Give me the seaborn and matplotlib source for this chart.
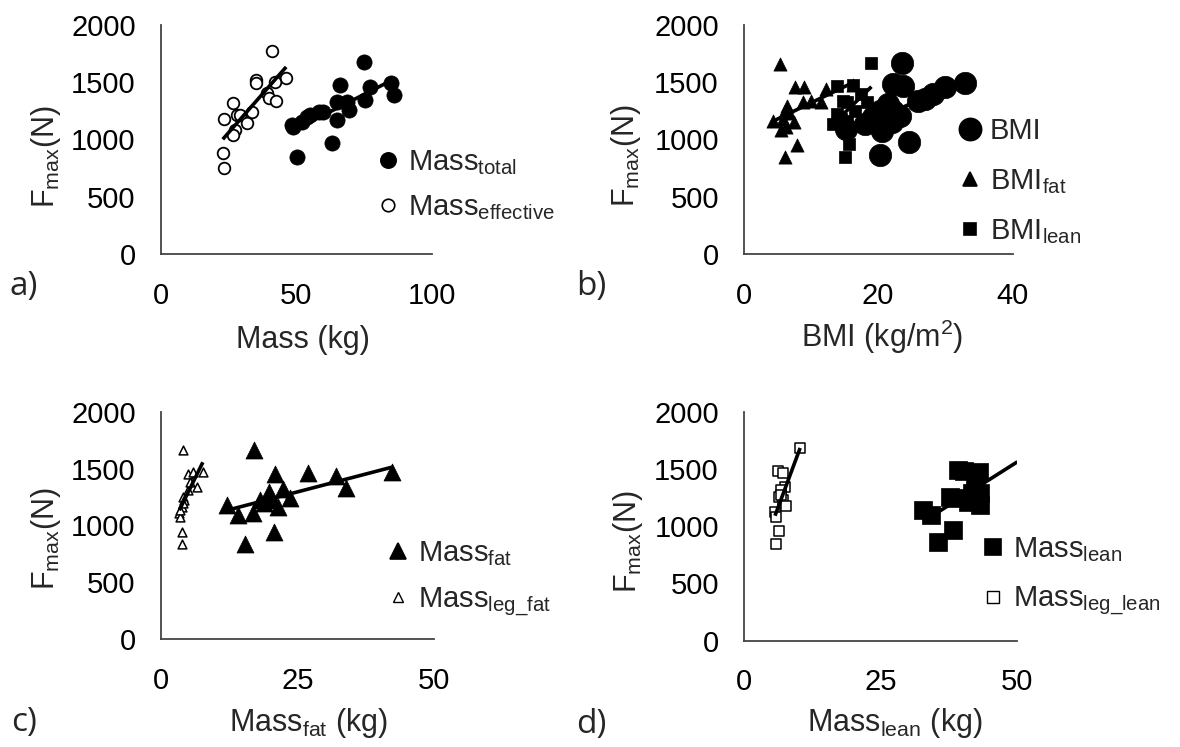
import numpy as np
import matplotlib
matplotlib.use("Agg")
import matplotlib.pyplot as plt
import seaborn as sns
from matplotlib.lines import Line2D

# ---------------- data ----------------
# panel a
mass_total_x = [48.4, 49.0, 50.3, 52.1, 54.0, 55.2, 58.3, 60.0, 63.2, 65.1, 65.1, 66.3, 68.8, 69.4, 74.9, 75.5, 77.4, 84.8, 86.0]
mass_total_y = [1127, 1112, 850, 1155, 1199, 1214, 1243, 1243, 967, 1170, 1330, 1476, 1330, 1258, 1680, 1345, 1461, 1496, 1389]
mass_eff_x = [41.0, 35.2, 35.2, 46.3, 42.3, 39.2, 39.8, 42.6, 26.8, 23.4, 28.3, 29.3, 33.6, 31.8, 27.5, 26.8, 22.9, 23.4]
mass_eff_y = [1776, 1520, 1491, 1534, 1505, 1403, 1360, 1339, 1316, 1176, 1214, 1214, 1243, 1141, 1083, 1039, 879, 748]
# panel b
bmi_x = [23.6, 22.2, 23.7, 32.9, 29.9, 28.2, 27.0, 26.0, 21.5, 20.3, 22.2, 23.2, 19.3, 18.0, 20.3, 22.0, 20.5, 24.6, 20.3, 15.2]
bmi_y = [1664, 1484, 1470, 1490, 1455, 1397, 1354, 1339, 1310, 1252, 1252, 1209, 1194, 1136, 1136, 1150, 1078, 977, 861, 1093]
bmi_fat_x = [5.4, 7.6, 9.0, 12.2, 16.2, 11.5, 8.8, 6.4, 6.2, 4.4, 5.9, 7.4, 5.6, 6.3, 7.9, 6.1, 10.0, 6.8]
bmi_fat_y = [1660, 1455, 1455, 1440, 1480, 1325, 1325, 1290, 1250, 1165, 1180, 1150, 1080, 1110, 950, 845, 1340, 1230]
bmi_lean_x = [19.0, 13.8, 16.3, 14.8, 15.3, 18.3, 13.8, 15.3, 13.3, 14.4, 15.6, 15.1, 16.5, 17.5]
bmi_lean_y = [1665, 1470, 1475, 1340, 1325, 1325, 1225, 1165, 1135, 1180, 963, 846, 1250, 1400]
# panel c
fat_x = [17.1, 20.9, 26.9, 32.0, 42.2, 33.9, 22.3, 19.7, 23.6, 18.2, 21.5, 12.1, 14.2, 16.8, 20.7, 15.4, 18.9, 20.3]
fat_y = [1663, 1453, 1464, 1435, 1473, 1332, 1318, 1297, 1239, 1224, 1165, 1180, 1092, 1113, 946, 837, 1195, 1224]
leg_fat_x = [4.0, 4.9, 5.85, 7.7, 6.6, 4.1, 3.84, 3.4, 3.5, 3.84, 3.84, 4.2, 4.1, 4.9, 5.3, 3.6]
leg_fat_y = [1663, 1453, 1473, 1473, 1336, 1253, 1165, 1107, 1078, 946, 837, 1224, 1195, 1310, 1380, 1140]
# panel d
lean_x = [39.2, 42.9, 38.6, 42.3, 43.2, 41.7, 32.8, 34.3, 41.0, 43.2, 38.3, 35.4, 37.7, 40.2]
lean_y = [1491, 1476, 1244, 1360, 1287, 1287, 1141, 1098, 1214, 1185, 967, 865, 1258, 1480]
leg_lean_x = [10.3, 6.3, 7.1, 7.5, 6.8, 6.4, 7.1, 7.8, 5.7, 5.9, 6.4, 5.9, 6.8]
leg_lean_y = [1680, 1485, 1461, 1345, 1316, 1258, 1229, 1176, 1127, 1083, 961, 844, 1272]

y_ticks = [0, 500, 1000, 1500, 2000]

# ---------------- style ----------------
sns.set_theme(style="white")
plt.rcParams['font.family'] = ['Liberation Sans', 'DejaVu Sans']
plt.rcParams['mathtext.fontset'] = 'custom'
plt.rcParams['mathtext.rm'] = 'Liberation Sans'
plt.rcParams['mathtext.it'] = 'Liberation Sans:italic'
plt.rcParams['mathtext.bf'] = 'Liberation Sans:bold'

FS_TICK = 21
FS_LAB = 22
FS_LEG = 21
W, H = 1180, 747
fig = plt.figure(figsize=(11.8, 7.47), dpi=100)
fig.patch.set_facecolor('white')


def add_axes(l, r, t, b):
    return fig.add_axes([l / W, 1 - b / H, (r - l) / W, (b - t) / H])


axa = add_axes(160.7, 431.7, 25, 254)
axb = add_axes(743.8, 1012.5, 25, 254)
axc = add_axes(160.7, 434.4, 411.7, 639.3)
axd = add_axes(743.8, 1017.4, 411.7, 640.7)


def style(ax, xmax, xticks):
    ax.set_xlim(0, xmax)
    ax.set_ylim(0, 2000)
    ax.set_xticks(xticks)
    ax.set_yticks(y_ticks)
    for s in ['top', 'right']:
        ax.spines[s].set_visible(False)
    for s in ['left', 'bottom']:
        ax.spines[s].set_color('#444444')
        ax.spines[s].set_linewidth(1.3)
    ax.tick_params(length=0, labelsize=FS_TICK, colors='black')
    ax.tick_params(axis='y', pad=18)
    ax.tick_params(axis='x', pad=20)
    ax.set_xlabel('')
    ax.set_ylabel('')
    ax.set_facecolor('none')


def pts(ax, x, y, marker, s, filled, lw=1.3):
    if filled:
        sns.scatterplot(x=x, y=y, ax=ax, marker=marker, s=s, color='black',
                        edgecolor='black', linewidth=0.5, legend=False, zorder=3, clip_on=False)
    else:
        sns.scatterplot(x=x, y=y, ax=ax, marker=marker, s=s, color='white',
                        edgecolor='black', linewidth=lw, legend=False, zorder=3, clip_on=False)


def fit(ax, x, y):
    sns.regplot(x=x, y=y, ax=ax, scatter=False, ci=None, color='black',
                line_kws=dict(lw=2.6, zorder=5, solid_capstyle='butt'))


# panel a
pts(axa, mass_eff_x, mass_eff_y, 'o', 70, False)
pts(axa, mass_total_x, mass_total_y, 'o', 120, True)
fit(axa, mass_eff_x, mass_eff_y)
fit(axa, mass_total_x, mass_total_y)
style(axa, 100, [0, 50, 100])

# panel b
pts(axb, bmi_x, bmi_y, 'o', 260, True)
pts(axb, bmi_fat_x, bmi_fat_y, '^', 90, True)
pts(axb, bmi_lean_x, bmi_lean_y, 's', 70, True)
fit(axb, bmi_x, bmi_y)
fit(axb, bmi_fat_x, bmi_fat_y)
fit(axb, bmi_lean_x, bmi_lean_y)
style(axb, 40, [0, 20, 40])

# panel c
pts(axc, leg_fat_x, leg_fat_y, '^', 40, False, lw=1.1)
pts(axc, fat_x, fat_y, '^', 150, True)
fit(axc, leg_fat_x, leg_fat_y)
fit(axc, fat_x, fat_y)
style(axc, 50, [0, 25, 50])

# panel d
pts(axd, leg_lean_x, leg_lean_y, 's', 50, False, lw=1.1)
pts(axd, lean_x, lean_y, 's', 170, True)
fit(axd, leg_lean_x, leg_lean_y)
# Mass_lean trendline forecast to the axis end (as in the source chart)
k, b0 = np.polyfit(lean_x, lean_y, 1)
xl = np.array([min(lean_x), 50])
axd.plot(xl, k * xl + b0, color='black', lw=2.6, zorder=5, solid_capstyle='butt')
style(axd, 50, [0, 25, 50])


# legends
def legend(ax, handles, labels, x, y, spacing):
    lg = ax.legend(handles, labels, loc='center left', bbox_to_anchor=(x, y),
                   frameon=False, fontsize=FS_LEG, handlelength=0.8, handletextpad=0.29,
                   labelspacing=spacing, borderaxespad=0, borderpad=0)
    lg.set_zorder(10)


def h(marker, ms, filled, mew=1.2):
    return Line2D([], [], ls='', marker=marker, markersize=ms,
                  markerfacecolor='black' if filled else 'white',
                  markeredgecolor='black', markeredgewidth=mew)


legend(axa, [h('o', 11, True), h('o', 9, False)],
       [r'Mass$_{\mathrm{total}}$', r'Mass$_{\mathrm{effective}}$'], 0.796, 0.30, 0.55)
legend(axb, [h('o', 16, True), h('^', 10, True), h('s', 8, True)],
       [r'BMI', r'BMI$_{\mathrm{fat}}$', r'BMI$_{\mathrm{lean}}$'], 0.798, 0.315, 0.74)
legend(axc, [h('^', 12, True), h('^', 7, False, 1.0)],
       [r'Mass$_{\mathrm{fat}}$', r'Mass$_{\mathrm{leg\_fat}}$'], 0.824, 0.265, 0.6)
legend(axd, [h('s', 12, True), h('s', 8, False, 1.0)],
       [r'Mass$_{\mathrm{lean}}$', r'Mass$_{\mathrm{leg\_lean}}$'], 0.868, 0.28, 0.72)

# axis titles
ylab = r'F$_{\mathrm{max}}$(N)'
for ax, x, y in [(axa, -0.423, 0.425), (axb, -0.438, 0.43), (axc, -0.419, 0.44), (axd, -0.424, 0.432)]:
    ax.text(x, y, ylab, transform=ax.transAxes, rotation=90, ha='center', va='center', fontsize=FS_LAB)

axa.text(0.525, -0.376, 'Mass (kg)', transform=axa.transAxes, ha='center', va='center', fontsize=FS_LAB)
axb.text(0.514, -0.362, r'BMI (kg/m$^{2}$)', transform=axb.transAxes, ha='center', va='center', fontsize=FS_LAB)
axc.text(0.541, -0.368, r'Mass$_{\mathrm{fat}}$ (kg)', transform=axc.transAxes, ha='center', va='center', fontsize=FS_LAB)
axd.text(0.551, -0.36, r'Mass$_{\mathrm{lean}}$ (kg)', transform=axd.transAxes, ha='center', va='center', fontsize=FS_LAB)

# panel letters
for lab, x, y in [('a)', 24, 287), ('b)', 591, 287), ('c)', 24, 722), ('d)', 591, 724)]:
    fig.text(x / W, 1 - y / H, lab, ha='center', va='center', fontsize=24,
             family=['Open Sans', 'DejaVu Sans'])

fig.savefig('out.png', dpi=100, facecolor='white')
